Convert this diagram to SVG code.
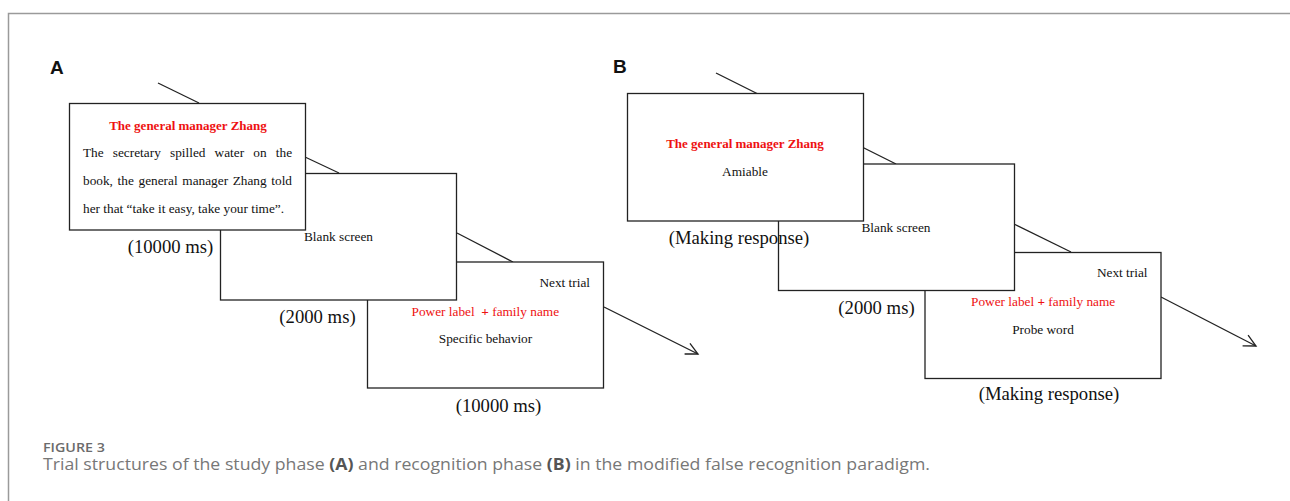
<svg xmlns="http://www.w3.org/2000/svg" width="1290" height="501" viewBox="0 0 1290 501">
<style>
.frame{stroke:#9a9a9a;stroke-width:1.5;fill:none}
.box{fill:#fff;stroke:#222;stroke-width:1.3}
.ln{stroke:#222;stroke-width:1.3;fill:none}
.t{font-family:"Liberation Serif",serif;font-size:13.3px;fill:#111}
.red{font-family:"Liberation Serif",serif;font-size:13.3px;fill:#ee1111}
.redb{font-family:"Liberation Serif",serif;font-size:13px;font-weight:bold;fill:#ee1111}
.big{font-family:"Liberation Serif",serif;font-size:18.7px;fill:#111}
.lab{font-family:"Liberation Sans",Arial,sans-serif;font-size:19px;font-weight:bold;fill:#111}
.fig{font-family:"Open Sans",sans-serif;font-size:13px;font-weight:600;fill:#6b6b6b}
.cap{font-family:"Open Sans",sans-serif;font-size:15.5px;fill:#777}
</style>
<defs>
<marker id="ah" markerWidth="16" markerHeight="16" refX="14" refY="8" orient="auto" markerUnits="userSpaceOnUse">
<path d="M2,2 L14,8 L2,14" fill="none" stroke="#222" stroke-width="1.3"/>
</marker>
</defs>
<path class="frame" d="M1290,13.5 H8.5 V501"/>
<text class="lab" x="50" y="73.5">A</text>
<text class="lab" x="613" y="72.5">B</text>
<g id="connectors">
<line class="ln" x1="158" y1="83" x2="199" y2="103"/>
<line class="ln" x1="305" y1="157" x2="339" y2="173"/>
<line class="ln" x1="457" y1="233" x2="513" y2="262"/>
<line class="ln" x1="604" y1="307" x2="698" y2="354" marker-end="url(#ah)"/>
<line class="ln" x1="716" y1="73" x2="757" y2="93.5"/>
<line class="ln" x1="863" y1="147.5" x2="896" y2="164"/>
<line class="ln" x1="1014" y1="224" x2="1071" y2="252"/>
<line class="ln" x1="1161" y1="297" x2="1256" y2="346" marker-end="url(#ah)"/>
</g>
<g id="a3">
<rect class="box" x="367.5" y="262" width="236" height="126"/>
<text class="t" x="590" y="286.5" text-anchor="end">Next trial</text>
<text class="red" x="411.5" y="315.5" xml:space="preserve">Power label  <tspan font-weight="bold">+</tspan> family name</text>
<text class="t" x="485.5" y="343" text-anchor="middle">Specific behavior</text>
<text class="big" x="498.5" y="411.5" text-anchor="middle">(10000 ms)</text>
</g>
<g id="a2">
<rect class="box" x="220.5" y="173.5" width="236" height="126.5"/>
<text class="t" x="338.5" y="241" text-anchor="middle">Blank screen</text>
<text class="big" x="317.5" y="323" text-anchor="middle">(2000 ms)</text>
</g>
<g id="a1">
<rect class="box" x="69.5" y="103.5" width="236" height="126.5"/>
<text class="redb" x="188" y="130" text-anchor="middle">The general manager Zhang</text>
<text class="t" y="157"><tspan x="83">The</tspan><tspan x="112.8">secretary</tspan><tspan x="170">spilled</tspan><tspan x="214.6">water</tspan><tspan x="253.3">on</tspan><tspan x="275.8">the</tspan></text>
<text class="t" y="185"><tspan x="83">book,</tspan><tspan x="117.6">the</tspan><tspan x="138.5">general</tspan><tspan x="182.3">manager</tspan><tspan x="232.7">Zhang</tspan><tspan x="271.3">told</tspan></text>
<text class="t" x="83" y="213">her that “take it easy, take your time”.</text>
<text class="big" x="170.5" y="253" text-anchor="middle">(10000 ms)</text>
</g>
<g id="b3">
<rect class="box" x="925" y="252.5" width="236" height="126"/>
<text class="t" x="1147.5" y="277" text-anchor="end">Next trial</text>
<text class="red" x="971" y="305.5">Power label <tspan font-weight="bold">+</tspan> family name</text>
<text class="t" x="1043" y="333.5" text-anchor="middle">Probe word</text>
<text class="big" x="1049" y="399.5" text-anchor="middle">(Making response)</text>
</g>
<g id="b2">
<rect class="box" x="778.5" y="164" width="236" height="126.5"/>
<text class="t" x="896" y="231.5" text-anchor="middle">Blank screen</text>
<text class="big" x="876.5" y="313.5" text-anchor="middle">(2000 ms)</text>
</g>
<g id="b1">
<rect class="box" x="627.5" y="93.5" width="236" height="127.5"/>
<text class="redb" x="745" y="147.5" text-anchor="middle">The general manager Zhang</text>
<text class="t" x="745" y="175.5" text-anchor="middle">Amiable</text>
<text class="big" x="739" y="243.5" text-anchor="middle">(Making response)</text>
</g>
<text class="fig" x="43" y="452" textLength="62" lengthAdjust="spacingAndGlyphs">FIGURE 3</text>
<text class="cap" x="43" y="470" textLength="887" lengthAdjust="spacingAndGlyphs">Trial structures of the study phase <tspan font-weight="bold" fill="#555">(A)</tspan> and recognition phase <tspan font-weight="bold" fill="#555">(B)</tspan> in the modified false recognition paradigm.</text>
</svg>
